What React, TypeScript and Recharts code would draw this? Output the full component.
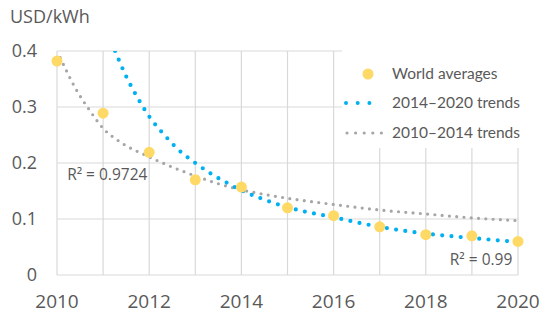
import React from "react";
import {
  ComposedChart,
  Line,
  Scatter,
  XAxis,
  YAxis,
  CartesianGrid,
  Legend,
  ReferenceDot,
} from "recharts";

// world average LCOE
const years = [2010, 2011, 2012, 2013, 2014, 2015, 2016, 2017, 2018, 2019, 2020];
const worldAverages = [0.382, 0.289, 0.219, 0.17, 0.157, 0.12, 0.106, 0.086, 0.072, 0.07, 0.06];

// 2014–2020 trend (blue dotted)
const trendNewX = [2011.26, 2011.51, 2011.71, 2012, 2012.33, 2012.63, 2013, 2013.32, 2013.5, 2013.68, 2014, 2014.42, 2014.8, 2015, 2016, 2017, 2018, 2019, 2020];
const trendNewY = [0.4, 0.353, 0.322, 0.283, 0.25, 0.224, 0.2, 0.182, 0.173, 0.165, 0.151, 0.137, 0.126, 0.121, 0.103, 0.086, 0.074, 0.066, 0.059];

// 2010–2014 trend (grey dotted)
const trendOldX = [2010.07, 2010.39, 2010.7, 2011, 2011.4, 2012, 2012.49, 2013, 2013.5, 2014, 2014.5, 2015, 2016, 2017, 2018, 2019, 2020];
const trendOldY = [0.388, 0.335, 0.295, 0.262, 0.236, 0.211, 0.193, 0.177, 0.163, 0.152, 0.144, 0.137, 0.126, 0.116, 0.109, 0.102, 0.097];

const yTicks = [0, 0.1, 0.2, 0.3, 0.4];
const xLabels = [2010, 2012, 2014, 2016, 2018, 2020];

const YELLOW = "#FFD966";
const BLUE = "#00B0F0";
const GREY = "#A6A6A6";
const TEXT = "#595959";
const FONT = "'Open Sans', sans-serif";

const pts = years.map((x, i) => ({ x, y: worldAverages[i] }));
const newTrend = trendNewX.map((x, i) => ({ x, y: trendNewY[i] }));
const oldTrend = trendOldX.map((x, i) => ({ x, y: trendOldY[i] }));

function LegendBox() {
  return (
    <svg width={200} height={103} style={{ background: "#fff", display: "block" }}>
      <circle cx={26} cy={29} r={5.5} fill={YELLOW} />
      <line x1={4} y1={58} x2={39} y2={58} stroke={BLUE} strokeWidth={4} strokeLinecap="round" strokeDasharray="0 11.7" />
      <line x1={5} y1={88} x2={48} y2={88} stroke={GREY} strokeWidth={3.2} strokeLinecap="round" strokeDasharray="0 8.6" />
      <g fontFamily="Lato, sans-serif" fontSize={15.5} fill={TEXT}>
        <text x={50} y={34}>World averages</text>
        <text x={50} y={63}>2014–2020 trends</text>
        <text x={50} y={93}>2010–2014 trends</text>
      </g>
    </svg>
  );
}

const r2Label = (txt: string) => (props: any) => {
  const vb = props.viewBox || {};
  return (
    <text x={vb.x} y={vb.y} fill={TEXT} fontSize={15.5} fontFamily={FONT}>
      {txt}
    </text>
  );
};

export default function App() {
  return (
    <div style={{ position: "absolute", left: 0, top: 0, width: 550, height: 323, background: "#fff" }}>
      <div style={{ position: "absolute", left: 10, top: 4, fontFamily: FONT, fontSize: 18, color: TEXT }}>
        USD/kWh
      </div>
      <ComposedChart width={550} height={323} margin={{ top: 51, right: 32, left: 0, bottom: 0 }}>
        <CartesianGrid stroke="#D9D9D9" strokeWidth={1.2} />
        <XAxis
          type="number"
          dataKey="x"
          domain={[2010, 2020]}
          ticks={years}
          tickFormatter={(v: number) => (xLabels.includes(v) ? String(v) : "")}
          axisLine={false}
          tickLine={false}
          tickSize={0}
          tickMargin={20}
          height={48}
          tick={{ fill: TEXT, fontSize: 19, fontFamily: FONT }}
        />
        <YAxis
          type="number"
          dataKey="y"
          domain={[0, 0.4]}
          ticks={yTicks}
          allowDataOverflow
          tickFormatter={(v: number) => (v === 0 ? "0" : v.toFixed(1))}
          axisLine={false}
          tickLine={false}
          tickSize={0}
          tickMargin={20}
          width={57}
          tick={{ fill: TEXT, fontSize: 18, fontFamily: FONT }}
        />
        <Scatter
          data={pts}
          dataKey="y"
          isAnimationActive={false}
          shape={(p: any) => <circle cx={p.cx} cy={p.cy} r={5.5} fill={YELLOW} />}
        />
        <Line
          data={oldTrend}
          dataKey="y"
          type="monotoneX"
          stroke={GREY}
          strokeWidth={3.2}
          strokeLinecap="round"
          strokeDasharray="0 7.3"
          dot={false}
          activeDot={false}
          isAnimationActive={false}
        />
        <Line
          data={newTrend}
          dataKey="y"
          type="monotoneX"
          stroke={BLUE}
          strokeWidth={4.2}
          strokeLinecap="round"
          strokeDasharray="0 9.3"
          dot={false}
          activeDot={false}
          isAnimationActive={false}
        />
        <ReferenceDot x={2010.22} y={0.17} r={0} fill="none" stroke="none" label={r2Label("R² = 0.9724")} />
        <ReferenceDot x={2018.52} y={0.018} r={0} fill="none" stroke="none" label={r2Label("R² = 0.99")} />
        <Legend
          layout="horizontal"
          verticalAlign="middle"
          align="center"
          wrapperStyle={{ left: 342, top: 45, width: 200, height: 103 }}
          content={() => <LegendBox />}
        />
      </ComposedChart>
    </div>
  );
}
